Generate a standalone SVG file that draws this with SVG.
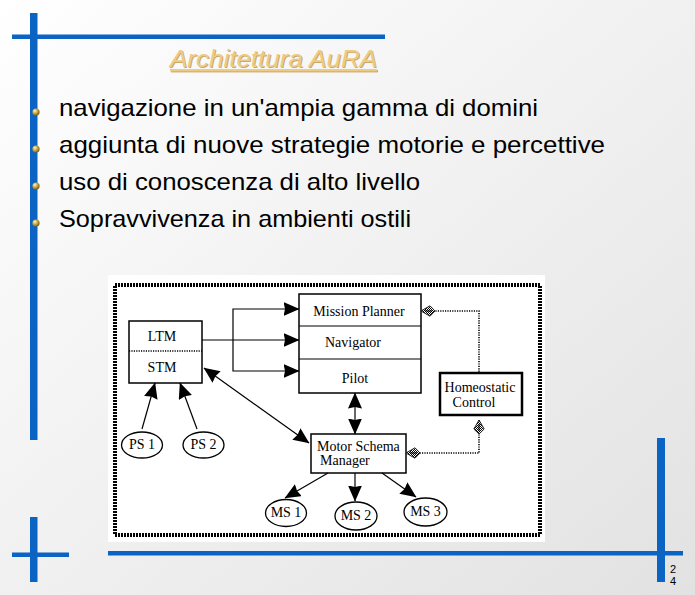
<svg xmlns="http://www.w3.org/2000/svg" width="695" height="595" viewBox="0 0 695 595">
<defs>
<linearGradient id="bg" x1="0" y1="0" x2="1" y2="1">
<stop offset="0" stop-color="#ffffff"/>
<stop offset="1" stop-color="#e2e2e2"/>
</linearGradient>
<radialGradient id="ball" cx="0.35" cy="0.35" r="0.7">
<stop offset="0" stop-color="#fff6c8"/>
<stop offset="0.5" stop-color="#c9a53c"/>
<stop offset="1" stop-color="#6f5a18"/>
</radialGradient>
<pattern id="checker" width="2" height="2" patternUnits="userSpaceOnUse">
<rect width="2" height="2" fill="#ffffff"/>
<rect width="1" height="1" fill="#000"/>
<rect x="1" y="1" width="1" height="1" fill="#000"/>
</pattern>
<marker id="ah" viewBox="0 0 16 14" markerWidth="16" markerHeight="14" refX="15.5" refY="7" orient="auto-start-reverse" markerUnits="userSpaceOnUse">
<path d="M0,0 L16,7 L0,14 L1.5,7 z" fill="#000"/>
</marker>
<marker id="hh" viewBox="0 0 15 12" markerWidth="15" markerHeight="12" refX="14" refY="6" orient="auto-start-reverse" markerUnits="userSpaceOnUse">
<path d="M0,6 L5,0.8 L14,6 L5,11.2 z" fill="url(#checker)" stroke="#222" stroke-width="1"/>
<path d="M3,6 L10,6" stroke="#000" stroke-width="1"/>
</marker>
</defs>
<style>
.blue{fill:#0b63c4}
.body{font-family:"Liberation Sans",Arial,sans-serif;font-size:24px;fill:#000}
.lbl{font-family:"Liberation Serif","Times New Roman",serif;font-size:14px;fill:#000}
.box{fill:#fff;stroke:#000;stroke-width:1.5}
.ell{fill:#fff;stroke:#000;stroke-width:1.3}
.ln{fill:none;stroke:#000;stroke-width:1.2}
.dot{fill:none;stroke:#000;stroke-width:1.6;stroke-dasharray:1.2 1.2}
</style>
<rect width="695" height="595" fill="url(#bg)"/>
<g id="decor">
<rect class="blue" x="30" y="13" width="7.5" height="427"/>
<rect class="blue" x="12" y="34.5" width="373" height="4.5"/>
<rect class="blue" x="30" y="517" width="7.5" height="65"/>
<rect class="blue" x="12" y="552.5" width="57" height="4.5"/>
<rect class="blue" x="657" y="438" width="8" height="144"/>
<rect class="blue" x="108" y="551" width="575" height="4.5"/>
<text x="670" y="573" font-family="Liberation Sans,Arial,sans-serif" font-size="11" fill="#000">2</text>
<text x="670" y="585" font-family="Liberation Sans,Arial,sans-serif" font-size="11" fill="#000">4</text>
</g>
<g id="title">
<text x="171" y="68" font-family="Liberation Sans,Arial,sans-serif" font-style="italic" font-size="24" fill="#c9a868" text-decoration="underline" textLength="207" lengthAdjust="spacingAndGlyphs">Architettura AuRA</text>
<text x="170" y="67" font-family="Liberation Sans,Arial,sans-serif" font-style="italic" font-size="24" fill="#eecb85" text-decoration="underline" textLength="207" lengthAdjust="spacingAndGlyphs">Architettura AuRA</text>
</g>
<g id="bullets">
<circle cx="36" cy="112" r="3.6" fill="url(#ball)"/>
<circle cx="36" cy="149" r="3.6" fill="url(#ball)"/>
<circle cx="36" cy="186" r="3.6" fill="url(#ball)"/>
<circle cx="36" cy="223" r="3.6" fill="url(#ball)"/>
<text class="body" x="59" y="116" textLength="479" lengthAdjust="spacingAndGlyphs">navigazione in un'ampia gamma di domini</text>
<text class="body" x="59" y="153" textLength="546" lengthAdjust="spacingAndGlyphs">aggiunta di nuove strategie motorie e percettive</text>
<text class="body" x="59" y="190" textLength="361" lengthAdjust="spacingAndGlyphs">uso di conoscenza di alto livello</text>
<text class="body" x="59" y="227" textLength="352" lengthAdjust="spacingAndGlyphs">Sopravvivenza in ambienti ostili</text>
</g>
<g id="diagram-frame">
<rect x="108" y="275" width="437" height="267" fill="#fff"/>
<rect x="115" y="285" width="425" height="250" fill="none" stroke="#000" stroke-width="4" stroke-dasharray="2 1"/>
</g>
<g id="planner">
<rect class="box" x="299" y="294" width="122" height="99"/>
<line class="ln" x1="299" y1="326" x2="421" y2="326"/>
<line class="ln" x1="299" y1="359" x2="421" y2="359"/>
<text class="lbl" x="359" y="316" text-anchor="middle">Mission Planner</text>
<text class="lbl" x="353" y="347" text-anchor="middle">Navigator</text>
<text class="lbl" x="355" y="383" text-anchor="middle">Pilot</text>
</g>
<g id="memory">
<rect class="box" x="129" y="321" width="73" height="62"/>
<line class="dot" x1="129" y1="351" x2="202" y2="351" stroke-width="1"/>
<text class="lbl" x="162" y="341" text-anchor="middle">LTM</text>
<text class="lbl" x="162" y="372" text-anchor="middle">STM</text>
</g>
<g id="homeostatic">
<rect x="440" y="373" width="82" height="42" fill="#fff" stroke="#000" stroke-width="2.5"/>
<text class="lbl" x="480" y="392" text-anchor="middle">Homeostatic</text>
<text class="lbl" x="474" y="407" text-anchor="middle">Control</text>
</g>
<g id="msm">
<rect class="box" x="311" y="434" width="95" height="39"/>
<text class="lbl" x="317" y="451">Motor Schema</text>
<text class="lbl" x="320" y="465">Manager</text>
</g>
<g id="ps1"><ellipse class="ell" cx="142" cy="445" rx="20.5" ry="13"/><text class="lbl" x="142" y="449" text-anchor="middle">PS 1</text></g>
<g id="ps2"><ellipse class="ell" cx="203.5" cy="445" rx="20.5" ry="13"/><text class="lbl" x="203.5" y="449" text-anchor="middle">PS 2</text></g>
<g id="ms1"><ellipse class="ell" cx="286" cy="513" rx="20.5" ry="13.5"/><text class="lbl" x="286" y="517" text-anchor="middle">MS 1</text></g>
<g id="ms2"><ellipse class="ell" cx="356" cy="516" rx="21" ry="14"/><text class="lbl" x="356" y="520" text-anchor="middle">MS 2</text></g>
<g id="ms3"><ellipse class="ell" cx="425.5" cy="512" rx="21.5" ry="14"/><text class="lbl" x="425.5" y="516" text-anchor="middle">MS 3</text></g>
<g id="connectors">
<line class="ln" x1="202" y1="340" x2="299" y2="340" marker-end="url(#ah)"/>
<polyline class="ln" points="299,309 233,309 233,371 299,371" marker-start="url(#ah)" marker-end="url(#ah)"/>
<line class="ln" x1="355" y1="393" x2="355" y2="434" marker-start="url(#ah)" marker-end="url(#ah)"/>
<line class="ln" x1="204" y1="368" x2="309" y2="443" marker-start="url(#ah)" marker-end="url(#ah)"/>
<line class="ln" x1="142" y1="429" x2="155" y2="383" marker-end="url(#ah)"/>
<line class="ln" x1="197" y1="429" x2="180" y2="383" marker-end="url(#ah)"/>
<line class="ln" x1="328" y1="473" x2="285" y2="498" marker-end="url(#ah)"/>
<line class="ln" x1="355" y1="473" x2="355" y2="501" marker-end="url(#ah)"/>
<line class="ln" x1="382" y1="473" x2="416" y2="497" marker-end="url(#ah)"/>
<polyline class="dot" points="421,311 479,311 479,373" marker-start="url(#hh)"/>
<polyline class="dot" points="479,420 479,453 406,453" marker-start="url(#hh)" marker-end="url(#hh)"/>
</g>
</svg>
